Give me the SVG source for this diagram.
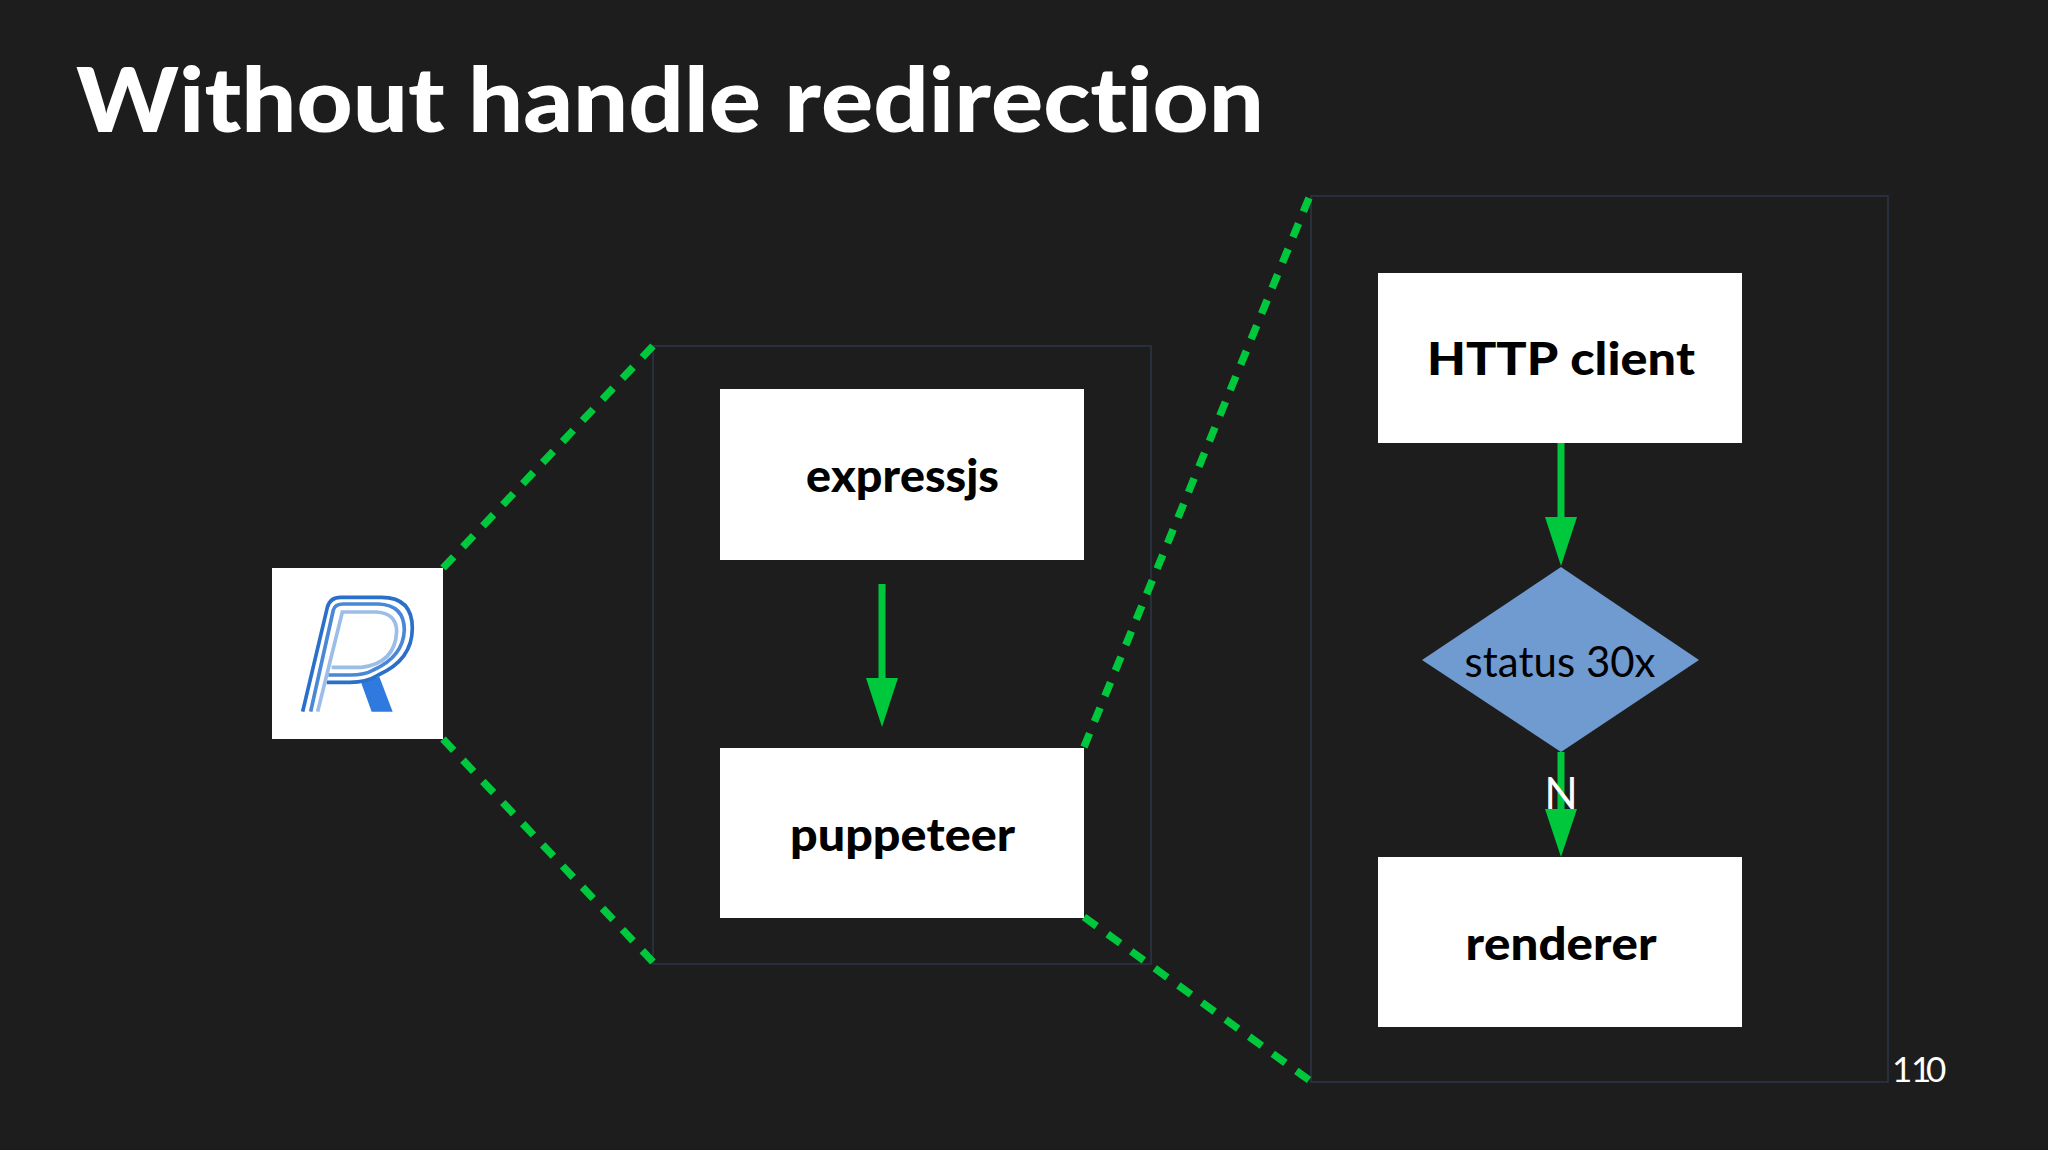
<svg xmlns="http://www.w3.org/2000/svg" width="2048" height="1150" viewBox="0 0 2048 1150">
<style>
text{font-family:"Lato","Noto Sans",sans-serif;font-variant-ligatures:none;font-kerning:none}
.box{fill:#fff}
.frame{fill:none;stroke:#2e3548;stroke-width:1.5}
.lbl{font-weight:900;font-size:45px;fill:#000;text-anchor:middle}
.dash{stroke:#00c83c;stroke-width:7.500;stroke-dasharray:15 13;fill:none}
.shaft{stroke:#00c83c;stroke-width:7;fill:none}
.head{fill:#00c83c}
.logo{fill:none;stroke-width:11}
</style>
<rect width="2048" height="1150" fill="#1d1d1e"/>
<text id="title" x="76" y="132" font-size="89" font-weight="900" fill="#fff" textLength="1188" lengthAdjust="spacingAndGlyphs">Without handle redirection</text>
<rect id="frame-server" class="frame" x="653" y="346" width="498" height="618"/>
<rect id="frame-puppeteer" class="frame" x="1311" y="196" width="577" height="886"/>
<g id="connectors">
<path class="dash" pathLength="295" d="M443 568L653 346"/>
<path class="dash" pathLength="295" d="M443 739L653 962"/>
<path class="dash" pathLength="603" d="M1084 747L1309 198"/>
<path class="dash" pathLength="267" d="M1084 917L1309 1080"/>
<path class="shaft" d="M882 584V680"/>
<polygon class="head" points="866,678 898,678 882,727"/>
<path class="shaft" d="M1561 442V520"/>
<polygon class="head" points="1545,517 1577,517 1561,566"/>
<path class="shaft" d="M1561 752V812"/>
<polygon class="head" points="1545,809 1577,809 1561,857"/>
</g>
<g id="node-logo">
<rect class="box" x="272" y="568" width="171" height="171"/>
<g transform="translate(250 550) scale(.3333)">
<polygon points="333,397 388,380 428,485 365,485" fill="#2f7ade"/>
<path class="logo" stroke="#2a6fc9" d="M158 485L232 172Q240 142 272 142H395Q487 142 487 235Q487 330 385 375Q350 397 300 397H230"/>
<path class="logo" stroke="#4a87d6" d="M182 485L250 180Q255 162 280 162H385Q463 165 463 240Q460 320 370 360Q345 375 300 375H235"/>
<path class="logo" stroke="#9bbde8" d="M203 485L277 186H380Q440 190 440 245Q435 340 335 352H245"/>
</g>
</g>
<g id="node-expressjs">
<rect class="box" x="720" y="389" width="364" height="171"/>
<text class="lbl" x="902.500" y="492" textLength="193" lengthAdjust="spacingAndGlyphs">expressjs</text>
</g>
<g id="node-puppeteer">
<rect class="box" x="720" y="748" width="364" height="170"/>
<text class="lbl" x="902.500" y="851" textLength="225" lengthAdjust="spacingAndGlyphs">puppeteer</text>
</g>
<g id="node-http">
<rect class="box" x="1378" y="273" width="364" height="170"/>
<text class="lbl" x="1561" y="375" textLength="268" lengthAdjust="spacingAndGlyphs">HTTP client</text>
</g>
<g id="node-status">
<polygon points="1561,567 1699,660 1561,752 1422,660" fill="#6f9bd1"/>
<text x="1560" y="677" font-size="42" fill="#000" text-anchor="middle" textLength="191" lengthAdjust="spacingAndGlyphs">status 30x</text>
</g>
<g id="node-renderer">
<rect class="box" x="1378" y="857" width="364" height="170"/>
<text class="lbl" x="1561" y="960" textLength="191" lengthAdjust="spacingAndGlyphs">renderer</text>
</g>
<text id="edge-label-n" x="1561" y="809" font-size="44" fill="#fff" text-anchor="middle">N</text>
<text id="page" x="1892 1911 1926" y="1082" font-size="35" fill="#fff">110</text>
</svg>
